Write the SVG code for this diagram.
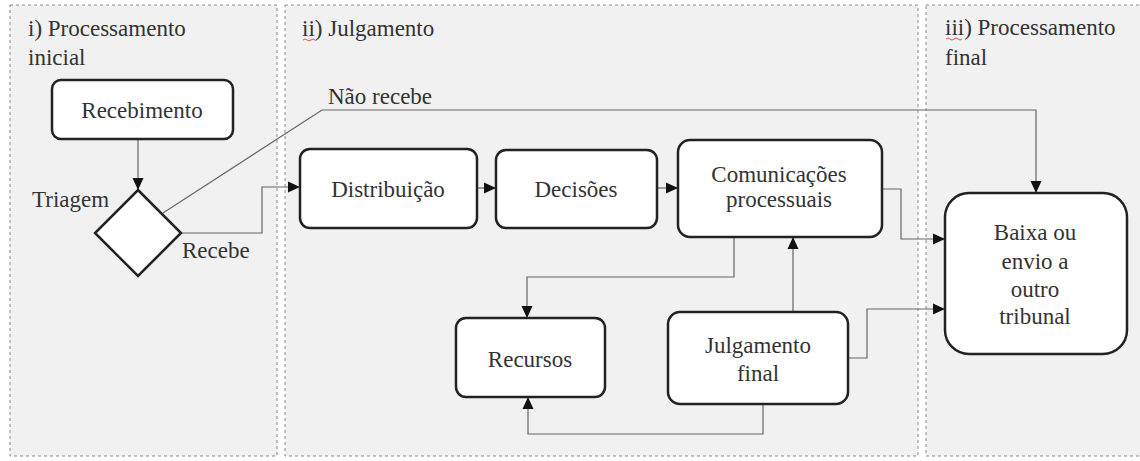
<svg xmlns="http://www.w3.org/2000/svg" width="1140" height="461" viewBox="0 0 1140 461" font-family="Liberation Serif, DejaVu Serif, serif" font-size="23">
<style>
.lane{fill:#f1f1f1;stroke:#8a8a8a;stroke-width:1;stroke-dasharray:3,3}
.node{fill:#ffffff;stroke:#222;stroke-width:2.5}
.t{fill:#333}
.c{text-anchor:middle}
.edge{fill:none;stroke:#666;stroke-width:1.2}
</style>
<defs>
<marker id="ah" viewBox="0 0 12 12" refX="12" refY="6" markerWidth="12" markerHeight="12" markerUnits="userSpaceOnUse" orient="auto">
<path d="M0,0.5 L12,6 L0,11.5 Z" fill="#111"/>
</marker>
</defs>
<rect width="1140" height="461" fill="#ffffff"/>
<g id="lane-i">
<rect class="lane" x="10" y="5" width="267" height="451"/>
<text class="t" x="28" y="36">i) Processamento</text>
<text class="t" x="28" y="65">inicial</text>
</g>
<g id="lane-ii">
<rect class="lane" x="285" y="5" width="633" height="451"/>
<text class="t" x="302" y="36">ii) Julgamento</text>
<path d="M303,40 q2,-2 4,0 t4,0 t4,0" fill="none" stroke="#e05050" stroke-width="1"/>
</g>
<g id="lane-iii">
<rect class="lane" x="926" y="5" width="220" height="451"/>
<text class="t" x="945" y="35">iii) Processamento</text>
<text class="t" x="945" y="65">final</text>
<path d="M946,39 q2,-2 4,0 t4,0 t4,0 t4,0" fill="none" stroke="#e05050" stroke-width="1"/>
</g>
<g id="connectors">
<path class="edge" d="M138,139 V190" marker-end="url(#ah)"/>
<path class="edge" d="M181,233 H262 V187 H300" marker-end="url(#ah)"/>
<path class="edge" d="M163,213 L322,110 H1036 V193" marker-end="url(#ah)"/>
<path class="edge" d="M477,188 H496" marker-end="url(#ah)"/>
<path class="edge" d="M657,188 H678" marker-end="url(#ah)"/>
<path class="edge" d="M882,189 H901 V239 H945" marker-end="url(#ah)"/>
<path class="edge" d="M848,358 H867 V309 H945" marker-end="url(#ah)"/>
<path class="edge" d="M793,312 V237" marker-end="url(#ah)"/>
<path class="edge" d="M734,237 V277 H527 V318" marker-end="url(#ah)"/>
<path class="edge" d="M763,404 V434 H528 V397" marker-end="url(#ah)"/>
<text class="t" x="328" y="104">Não recebe</text>
<text class="t" x="32" y="207">Triagem</text>
<text class="t" x="182" y="258">Recebe</text>
</g>
<g id="recebimento">
<rect class="node" x="52" y="80" width="181" height="59" rx="9"/>
<text class="t c" x="142" y="118">Recebimento</text>
</g>
<g id="triagem">
<path class="node" d="M138,190 L181,233 L138,276 L95,233 Z"/>
</g>
<g id="distribuicao">
<rect class="node" x="300" y="149" width="177" height="79" rx="10"/>
<text class="t c" x="388" y="197">Distribuição</text>
</g>
<g id="decisoes">
<rect class="node" x="496" y="150" width="161" height="78" rx="10"/>
<text class="t c" x="576" y="197">Decisões</text>
</g>
<g id="comunicacoes">
<rect class="node" x="678" y="140" width="204" height="97" rx="12"/>
<text class="t c" x="779" y="182">Comunicações</text>
<text class="t c" x="779" y="207">processuais</text>
</g>
<g id="recursos">
<rect class="node" x="456" y="318" width="149" height="79" rx="10"/>
<text class="t c" x="530" y="367">Recursos</text>
</g>
<g id="julgamento-final">
<rect class="node" x="668" y="312" width="180" height="92" rx="12"/>
<text class="t c" x="758" y="353">Julgamento</text>
<text class="t c" x="758" y="381">final</text>
</g>
<g id="baixa">
<rect class="node" x="945" y="193" width="182" height="161" rx="24"/>
<text class="t c" x="1035" y="240">Baixa ou</text>
<text class="t c" x="1035" y="269">envio a</text>
<text class="t c" x="1035" y="297">outro</text>
<text class="t c" x="1035" y="324">tribunal</text>
</g>
</svg>
